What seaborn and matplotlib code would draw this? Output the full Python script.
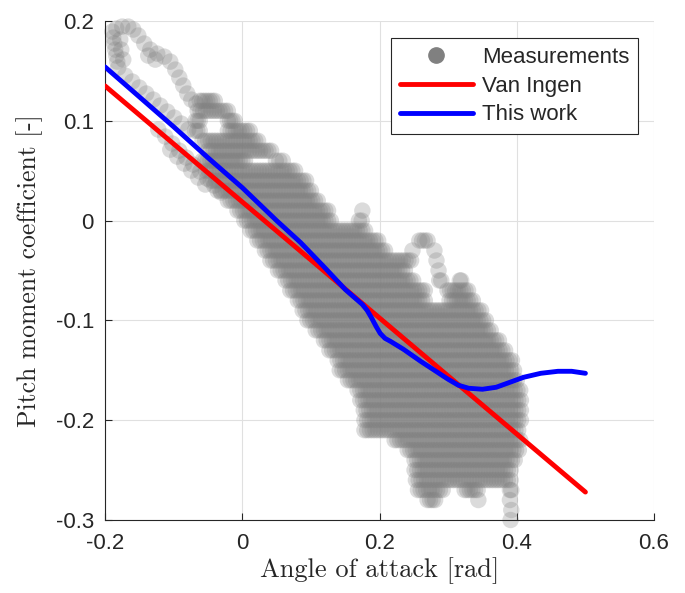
import numpy as np
import pandas as pd
import matplotlib
matplotlib.use('Agg')
import matplotlib.pyplot as plt
from matplotlib.lines import Line2D
import seaborn as sns

sns.set_theme(style='white')
plt.rcParams['font.family'] = ['Liberation Sans', 'DejaVu Sans']
plt.rcParams['axes.unicode_minus'] = False

cloud_rows_y = [0.12, 0.11, 0.10, 0.09, 0.08, 0.07, 0.06, 0.05, 0.04, 0.03,
                0.02, 0.01, 0.00, -0.01, -0.02, -0.03, -0.04, -0.05, -0.06, -0.07,
                -0.08, -0.09, -0.10, -0.11, -0.12, -0.13, -0.14, -0.15, -0.16, -0.17,
                -0.18, -0.19, -0.20, -0.21, -0.22, -0.23, -0.24, -0.25, -0.26, -0.27,
                -0.28, -0.29, -0.30]
cloud_rows_x = [
    [(-0.062, -0.040)],
    [(-0.065, -0.021)],
    [(-0.068, -0.062), (-0.021, -0.011)],
    [(-0.069, -0.062), (-0.021, 0.011)],
    [(-0.058, 0.023)],
    [(-0.050, 0.042)],
    [(-0.058, 0.004), (0.049, 0.059)],
    [(-0.053, 0.077)],
    [(-0.046, 0.093)],
    [(-0.036, 0.100)],
    [(-0.021, 0.110)],
    [(-0.007, 0.125), (0.175, 0.175)],
    [(0.003, 0.129), (0.170, 0.174)],
    [(0.012, 0.179)],
    [(0.022, 0.198), (0.258, 0.270)],
    [(0.033, 0.208), (0.248, 0.249), (0.280, 0.280)],
    [(0.041, 0.246), (0.283, 0.283)],
    [(0.052, 0.237), (0.286, 0.287)],
    [(0.063, 0.249), (0.287, 0.290), (0.317, 0.319)],
    [(0.070, 0.266), (0.299, 0.329)],
    [(0.081, 0.266), (0.302, 0.336)],
    [(0.088, 0.348)],
    [(0.095, 0.355)],
    [(0.107, 0.362)],
    [(0.119, 0.374)],
    [(0.127, 0.383)],
    [(0.139, 0.393)],
    [(0.142, 0.396)],
    [(0.154, 0.400)],
    [(0.168, 0.405)],
    [(0.172, 0.406)],
    [(0.177, 0.406)],
    [(0.178, 0.406)],
    [(0.178, 0.402)],
    [(0.222, 0.405)],
    [(0.241, 0.403)],
    [(0.251, 0.397)],
    [(0.251, 0.391)],
    [(0.253, 0.391)],
    [(0.256, 0.292), (0.324, 0.343), (0.390, 0.392)],
    [(0.270, 0.281), (0.344, 0.344), (0.390, 0.391)],
    [(0.392, 0.392)],
    [(0.391, 0.391)],
]

# Thin upper-left trajectory of the measurements (loops)
tail_x = [-0.1894, -0.1880, -0.1865, -0.1851, -0.1836, -0.1821, -0.1807,
          -0.1778, -0.1763, -0.1734,
          -0.1705, -0.1603, -0.1501, -0.1399, -0.1297, -0.1195, -0.1093, -0.0991, -0.0889, -0.0787,
          -0.1224, -0.1122, -0.1020, -0.0918, -0.0816, -0.0714, -0.0612, -0.0510, -0.0408, -0.0306,
          -0.1049, -0.0947, -0.0845, -0.0743, -0.0641, -0.0539,
          -0.1836, -0.1749, -0.1661, -0.1588,
          -0.1515, -0.1428, -0.1341, -0.1239, -0.1137, -0.1049, -0.0976, -0.0918, -0.0860,
          -0.0801, -0.0743, -0.0670, -0.1370, -0.1268]
tail_y = [0.1894, 0.1834, 0.1774, 0.1713, 0.1653, 0.1593, 0.1533,
          0.1814, 0.1713, 0.1613,
          0.1453, 0.1393, 0.1333, 0.1273, 0.1212, 0.1152, 0.1092, 0.1032, 0.0972, 0.0912,
          0.0912, 0.0842, 0.0772, 0.0701, 0.0631, 0.0561, 0.0491, 0.0421, 0.0351, 0.0281,
          0.0711, 0.0641, 0.0571, 0.0501, 0.0431, 0.0361,
          0.1924, 0.1944, 0.1944, 0.1914,
          0.1854, 0.1774, 0.1713, 0.1673, 0.1643, 0.1593, 0.1513, 0.1433, 0.1353,
          0.1273, 0.1212, 0.1172, 0.1653, 0.1613]

# Van Ingen model
vi_x = [-0.2, 0.5]
vi_y = [0.135, -0.272]

# This work
tw_x = [-0.20, -0.15, -0.10, -0.05, 0.00, 0.05, 0.085, 0.12, 0.15, 0.165, 0.175,
        0.182, 0.188, 0.195, 0.201, 0.208, 0.216, 0.235, 0.26, 0.28, 0.30, 0.315,
        0.33, 0.35, 0.37, 0.39, 0.41, 0.435, 0.46, 0.48, 0.50]
tw_y = [0.154, 0.124, 0.094, 0.063, 0.033, 0.000, -0.022, -0.047, -0.069, -0.078, -0.084,
        -0.090, -0.097, -0.106, -0.113, -0.118, -0.121, -0.129, -0.141, -0.150, -0.159, -0.165,
        -0.168, -0.169, -0.167, -0.162, -0.157, -0.153, -0.151, -0.151, -0.153]

x_ticks = [-0.2, 0, 0.2, 0.4, 0.6]
x_labels = ['-0.2', '0', '0.2', '0.4', '0.6']
y_ticks = [-0.3, -0.2, -0.1, 0, 0.1, 0.2]
y_labels = ['-0.3', '-0.2', '-0.1', '0', '0.1', '0.2']

# build the scatter table from the rows
pts_x, pts_y = list(tail_x), list(tail_y)
for yv, segs in zip(cloud_rows_y, cloud_rows_x):
    for x0, x1 in segs:
        n = max(1, int(round((x1 - x0) / 0.004)) + 1)
        xs = np.linspace(x0, x1, n)
        pts_x.extend(xs)
        pts_y.extend([yv] * n)
cloud = pd.DataFrame({'aoa': pts_x, 'cm': pts_y})

fig = plt.figure(figsize=(6.85, 5.93), dpi=100)
ax = fig.add_axes([0.1533, 0.1231, 0.8015, 0.8415])

sns.scatterplot(data=cloud, x='aoa', y='cm', s=140, color='#808080', alpha=0.28,
                linewidth=0, edgecolor='none', legend=False, ax=ax, clip_on=False, zorder=2)
sns.lineplot(x=vi_x, y=vi_y, color='red', lw=3.5, ax=ax, zorder=3)
sns.lineplot(x=tw_x, y=tw_y, color='blue', lw=3.5, ax=ax, zorder=4)

ax.set_xlim(-0.2, 0.6)
ax.set_ylim(-0.3, 0.2)
ax.set_xticks(x_ticks)
ax.set_xticklabels(x_labels)
ax.set_yticks(y_ticks)
ax.set_yticklabels(y_labels)
ax.grid(True, color='#e0e0e0', lw=0.8)
ax.set_axisbelow(True)
for s in ['top', 'right']:
    ax.spines[s].set_visible(False)
for s in ['left', 'bottom']:
    ax.spines[s].set_color('#262626')
    ax.spines[s].set_linewidth(0.8)
ax.tick_params(axis='both', direction='in', length=5, width=0.8, colors='#262626',
               labelsize=16, bottom=True, left=True)
ax.tick_params(axis='x', pad=9)
ax.tick_params(axis='y', pad=8)

ax.set_xlabel('Angle of attack [rad]', fontfamily='cmr10', fontsize=19, color='#262626', labelpad=3)
ax.set_ylabel('Pitch moment coefficient [-]', fontfamily='cmr10', fontsize=18.5, color='#262626', labelpad=9)

handles = [Line2D([], [], marker='o', ls='none', color='#808080', markersize=11),
           Line2D([], [], color='red', lw=3.5),
           Line2D([], [], color='blue', lw=3.5)]
leg = ax.legend(handles, ['Measurements', 'Van Ingen', 'This work'], loc='upper right',
                bbox_to_anchor=(0.971, 0.966), borderaxespad=0, fontsize=16,
                fancybox=False, framealpha=1, edgecolor='#262626', handlelength=3.3,
                handletextpad=0.4, labelspacing=0.35, borderpad=0.4)
leg.get_frame().set_linewidth(0.8)
leg.set_zorder(10)

fig.savefig('out.png', dpi=100)
